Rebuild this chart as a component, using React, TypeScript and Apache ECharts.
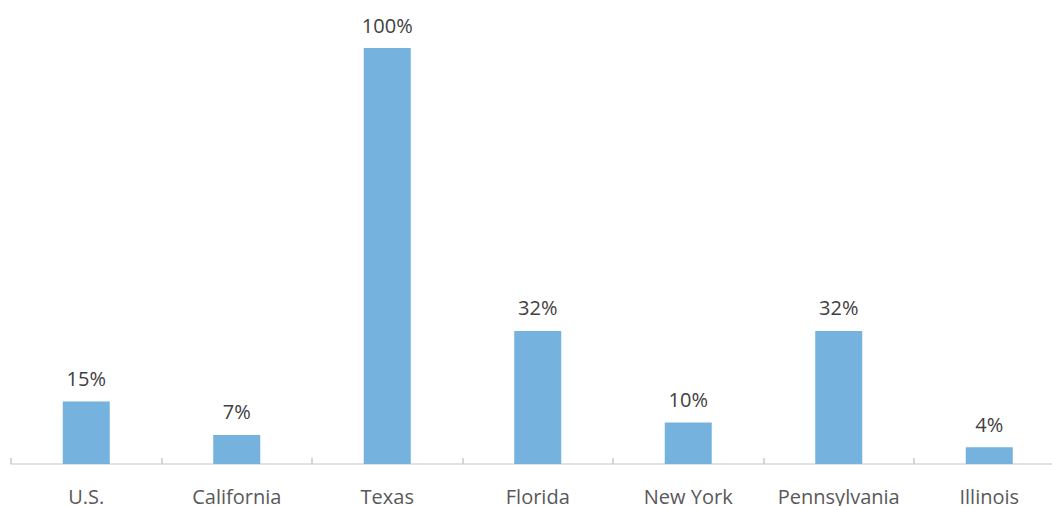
import React, { useEffect, useRef } from "react";
import * as echarts from "echarts";

const categories = ["U.S.", "California", "Texas", "Florida", "New York", "Pennsylvania", "Illinois"];
const values = [15, 7, 100, 32, 10, 32, 4];

export default function App() {
  const ref = useRef<HTMLDivElement>(null);
  useEffect(() => {
    if (!ref.current) return;
    const chart = echarts.init(ref.current, null, { renderer: "svg" });
    chart.setOption({
      animation: false,
      backgroundColor: "#ffffff",
      grid: { left: 11, right: 0.5, top: 48, bottom: 41, containLabel: false },
      xAxis: {
        type: "category",
        data: categories,
        axisLine: { lineStyle: { color: "#D9D9D9", width: 1.5 } },
        axisTick: { show: true, inside: true, length: 6, lineStyle: { color: "#C8C8C8", width: 1.5 } },
        axisLabel: {
          color: "#595959",
          fontFamily: "Open Sans",
          fontSize: 20,
          margin: 22,
          interval: 0,
        },
      },
      yAxis: {
        type: "value",
        min: 0,
        max: 100,
        show: false,
        splitLine: { show: false },
      },
      series: [
        {
          type: "bar",
          data: values,
          barWidth: 47,
          itemStyle: { color: "#75B2DD" },
          label: {
            show: true,
            position: "top",
            distance: 13,
            formatter: "{c}%",
            color: "#404040",
            fontFamily: "Open Sans",
            fontSize: 20,
          },
        },
      ],
    });
    return () => chart.dispose();
  }, []);
  return (
    <div style={{ position: "fixed", left: 0, top: 0, width: 1052, height: 506, overflow: "hidden" }}>
      <div ref={ref} style={{ width: 1065, height: 506 }} />
    </div>
  );
}
